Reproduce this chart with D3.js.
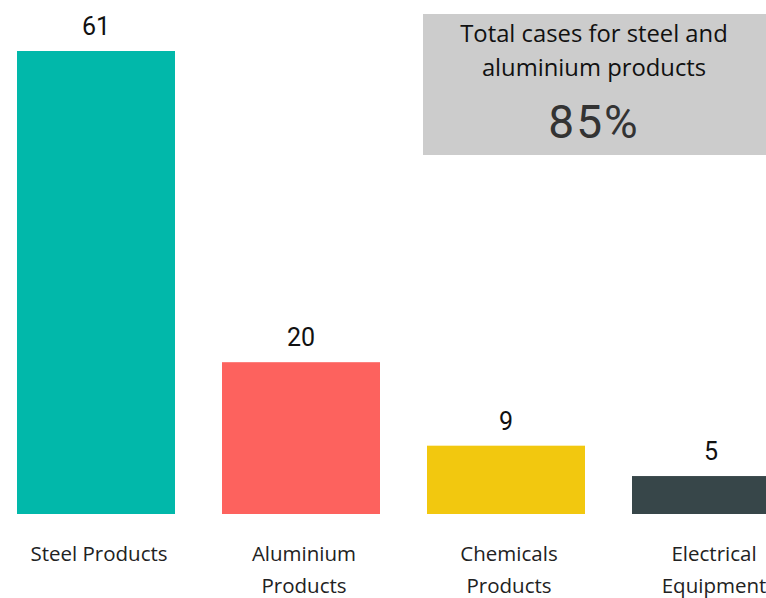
<!DOCTYPE html>
<html><head><meta charset="utf-8">
<script src="https://cdn.jsdelivr.net/npm/d3@7"></script>
<style>body{margin:0;background:#fff;overflow:hidden}svg{display:block}</style>
</head><body>
<script>
const categories = [["Steel Products"], ["Aluminium", "Products"], ["Chemicals", "Products"], ["Electrical", "Equipment"]];
const values = [61, 20, 9, 5];
const colors = ["#01B8AA", "#FD625E", "#F2C80F", "#374649"];
const cardTitle = ["Total cases for steel and", "aluminium products"];
const cardValue = "85%";

const W = 766, H = 598;
const svg = d3.select("body").append("svg").attr("width", W).attr("height", H);
const keys = categories.map(c => c.join(" "));
const pi = 47/205;
const x = d3.scaleBand().domain(keys).range([-6.5, 813.5]).paddingInner(pi).paddingOuter(pi/2);
const y = d3.scaleLinear().domain([0, d3.max(values)]).range([514, 51]);

svg.selectAll("rect.bar").data(values).join("rect").attr("class","bar")
  .attr("x", (d,i) => x(keys[i])).attr("width", x.bandwidth())
  .attr("y", d => y(d)).attr("height", d => y(0) - y(d))
  .attr("fill", (d,i) => colors[i]);

svg.selectAll("text.val").data(values).join("text").attr("class","val")
  .attr("x", (d,i) => x(keys[i]) + x.bandwidth()/2)
  .attr("y", d => y(d) - 16)
  .attr("text-anchor","middle")
  .attr("font-family","Roboto, sans-serif").attr("font-weight", 400).attr("font-size", 25)
  .attr("fill","#111").text(d => d);

const lab = svg.selectAll("text.cat").data(categories).join("text").attr("class","cat")
  .attr("text-anchor","middle")
  .attr("font-family","'Open Sans', sans-serif").attr("font-size", 20.5).attr("fill","#222");
lab.each(function(c, i) {
  const t = d3.select(this);
  c.forEach((line, j) => t.append("tspan").attr("x", x(keys[i]) + x.bandwidth()/2 + 3).attr("y", 561 + j*32).text(line));
});

// card
const card = svg.append("g");
card.append("rect").attr("x", 423).attr("y", 14).attr("width", 343).attr("height", 141).attr("fill", "#CCCCCC");
cardTitle.forEach((line, j) => card.append("text").attr("x", 594).attr("y", 42 + j*34)
  .attr("text-anchor","middle").attr("font-family","'Open Sans', sans-serif").attr("font-size", 23.8).attr("fill","#111").text(line));
card.append("text").attr("x", 594).attr("y", 138).attr("text-anchor","middle")
  .attr("font-family","Roboto, sans-serif").attr("font-size", 46).attr("letter-spacing", 2).attr("fill","#333").text(cardValue);
</script>
</body></html>
